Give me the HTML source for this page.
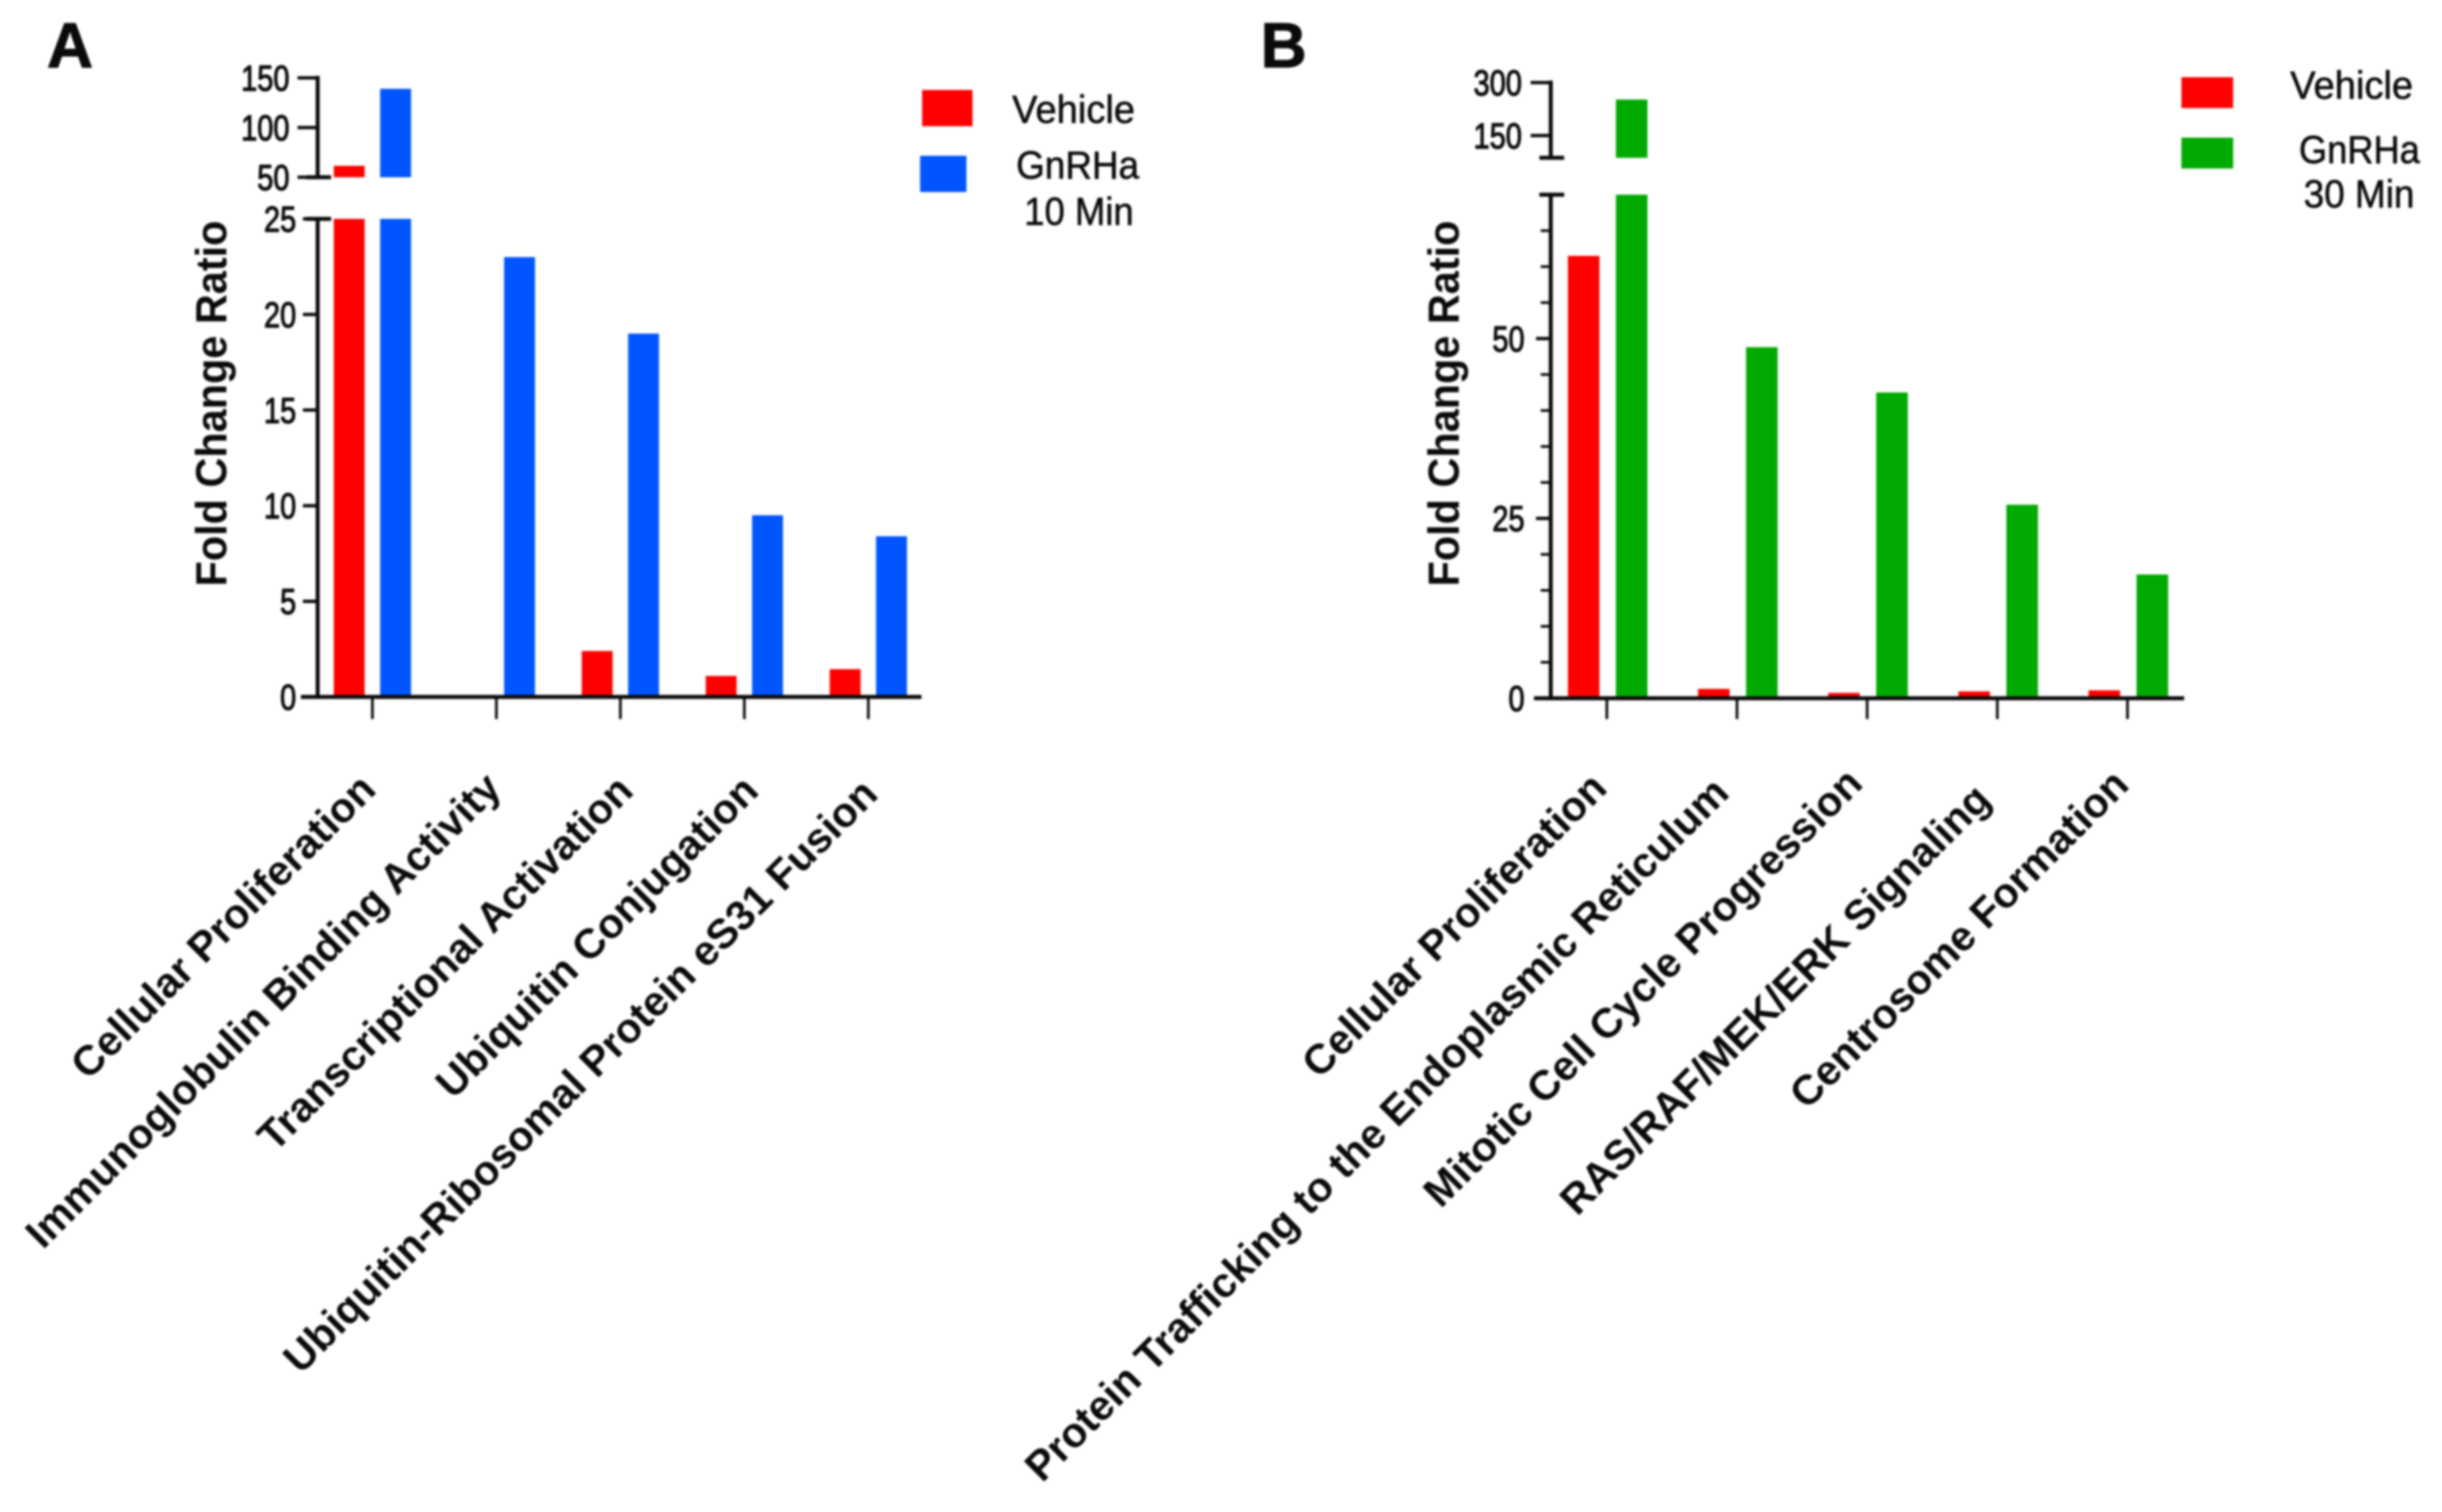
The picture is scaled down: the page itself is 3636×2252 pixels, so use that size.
<!DOCTYPE html>
<html lang="en">
<head>
<meta charset="utf-8">
<title>Fold Change Ratio panels A and B</title>
<style>
html,body{margin:0;padding:0;background:#fff;width:3636px;height:2252px;overflow:hidden}
svg{display:block;filter:blur(1.5px)}
text{font-family:"Liberation Sans",Arial,sans-serif;fill:#0a0a0a}
</style>
</head>
<body>
<svg id="figure" xmlns="http://www.w3.org/2000/svg" width="3636" height="2252" viewBox="0 0 3636 2252">
  <rect x="0" y="0" width="3636" height="2252" fill="#fff"/>
  <text x="70" y="100" font-size="95" font-weight="700" stroke="#0a0a0a" stroke-width="1.5">A</text>
  <text x="1877" y="100" font-size="95" font-weight="700" stroke="#0a0a0a" stroke-width="1.5">B</text>

  <text transform="translate(337,601) rotate(-90)" text-anchor="middle" font-size="65" font-weight="700" textLength="545" lengthAdjust="spacingAndGlyphs">Fold Change Ratio</text>
  <text transform="translate(2172,601) rotate(-90)" text-anchor="middle" font-size="65" font-weight="700" textLength="545" lengthAdjust="spacingAndGlyphs">Fold Change Ratio</text>

  <g>
    <rect x="1373" y="134" width="75" height="54" fill="#ff0000"/>
    <text x="1507" y="183" font-size="58" textLength="183" lengthAdjust="spacingAndGlyphs" stroke="#0a0a0a" stroke-width="0.8">Vehicle</text>
    <rect x="1370" y="232" width="69" height="54" fill="#0055ff"/>
    <text x="1513" y="266" font-size="58" textLength="183" lengthAdjust="spacingAndGlyphs" stroke="#0a0a0a" stroke-width="0.8">GnRHa</text>
    <text x="1525" y="335" font-size="58" textLength="163" lengthAdjust="spacingAndGlyphs" stroke="#0a0a0a" stroke-width="0.8">10 Min</text>
  </g>
  <g>
    <rect x="3248" y="115" width="77" height="46" fill="#ff0000"/>
    <text x="3410" y="147" font-size="58" textLength="183" lengthAdjust="spacingAndGlyphs" stroke="#0a0a0a" stroke-width="0.8">Vehicle</text>
    <rect x="3248" y="205" width="77" height="46" fill="#00aa00"/>
    <text x="3423" y="243" font-size="58" textLength="180" lengthAdjust="spacingAndGlyphs" stroke="#0a0a0a" stroke-width="0.8">GnRHa</text>
    <text x="3430" y="309" font-size="58" textLength="165" lengthAdjust="spacingAndGlyphs" stroke="#0a0a0a" stroke-width="0.8">30 Min</text>
  </g>
</svg>
<script>
// Panel A data
const categoriesA = ["Cellular Proliferation", "Immunoglobulin Binding Activity", "Transcriptional Activation", "Ubiquitin Conjugation", "Ubiquitin-Ribosomal Protein eS31 Fusion"];
const vehicleA = [61.5, 0.1, 2.4, 1.1, 1.45];
const gnrhaA = [139, 23, 19, 9.5, 8.4];
const lowerTicksA = [0, 5, 10, 15, 20, 25];
const upperTicksA = [50, 100, 150];
const lowerMinorA = [];

// Panel B data
const categoriesB = ["Cellular Proliferation", "Protein Trafficking to the Endoplasmic Reticulum", "Mitotic Cell Cycle Progression", "RAS/RAF/MEK/ERK Signaling", "Centrosome Formation"];
const vehicleB = [61.5, 1.3, 0.75, 0.95, 1.1];
const gnrhaB = [252, 48.8, 42.5, 26.9, 17.2];
const lowerTicksB = [0, 25, 50];
const upperTicksB = [150, 300];
const lowerMinorB = [5, 10, 15, 20, 30, 35, 40, 45, 55, 60, 65];

const svg = document.getElementById('figure');
const NS = 'http://www.w3.org/2000/svg';

function make(tag, attrs, text) {
  const el = document.createElementNS(NS, tag);
  for (const k in attrs) el.setAttribute(k, attrs[k]);
  if (text !== undefined) el.textContent = text;
  svg.appendChild(el);
  return el;
}
function linear(d0, d1, r0, r1) {
  return v => r0 + (v - d0) * (r1 - r0) / (d1 - d0);
}

function drawPanel(p) {
  const yLow = linear(p.lowMin, p.lowMax, p.lowBottom, p.lowTop);
  const yUp = linear(p.upMin, p.upMax, p.upBottom, p.upTop);
  const xTick = i => p.x0 + i * p.step;

  function bars(values, offset, color, key) {
    values.forEach((v, i) => {
      const cx = xTick(i) + offset;
      const top = yLow(Math.min(v, p.lowMax));
      const low = make('rect', {x: cx - p.barW / 2, y: top, width: p.barW, height: p.lowBottom - top, fill: color});
      
      
      if (v > p.upMin) {
        const ut = yUp(v);
        const up = make('rect', {x: cx - p.barW / 2, y: ut, width: p.barW, height: p.upBottom - ut, fill: color});
        
        
      }
    });
  }
  bars(p.vehicle, p.offV, '#ff0000', 'vehicle');
  bars(p.gnrha, p.offG, p.color, 'gnrha');

  // y axis segments
  const segL = make('line', {x1: p.axisX, x2: p.axisX, y1: p.lowTop, y2: p.lowBottom, stroke: '#0a0a0a', 'stroke-width': 6});
  
  
  const segU = make('line', {x1: p.axisX, x2: p.axisX, y1: p.upTop - 3, y2: p.upBottom, stroke: '#0a0a0a', 'stroke-width': 6});
  
  

  // break caps
  [p.lowTop, p.upBottom].forEach((cy, i) => {
    const cap = make('line', {x1: p.axisX - 17, x2: p.axisX + 20, y1: cy, y2: cy, stroke: '#0a0a0a', 'stroke-width': 6});
    
    
  });

  // baseline
  const base = make('line', {x1: p.baseL, x2: p.baseR, y1: p.lowBottom, y2: p.lowBottom, stroke: '#0a0a0a', 'stroke-width': 6});
  
  

  // y ticks and labels
  function yTicks(ticks, scale, labelX, tickLeft, seg) {
    ticks.forEach(t => {
      const y = scale(t);
      const tk = make('line', {x1: p.axisX - tickLeft, x2: p.axisX, y1: y, y2: y, stroke: '#0a0a0a', 'stroke-width': 5});
      
      
      const s = String(t);
      const lb = make('text', {x: labelX - s.length * 24, y: y + 19, 'font-size': 54, textLength: s.length * 24, lengthAdjust: 'spacingAndGlyphs', stroke: '#0a0a0a', 'stroke-width': 1.6}, s);
      
      
    });
  }
  yTicks(p.lowTicks, yLow, p.lowLabelX, 22, 'lower');
  yTicks(p.upTicks, yUp, p.upLabelX, 30, 'upper');
  p.minor.forEach(t => {
    const y = yLow(t);
    const tk = make('line', {x1: p.axisX - 15, x2: p.axisX, y1: y, y2: y, stroke: '#0a0a0a', 'stroke-width': 4});
    
    
  });

  // x ticks and rotated category labels
  p.categories.forEach((c, i) => {
    const x = xTick(i);
    const tk = make('line', {x1: x, x2: x, y1: p.lowBottom, y2: 1071, stroke: '#0a0a0a', 'stroke-width': 4});
    
    
    const lb = make('text', {'text-anchor': 'end', 'font-size': 62, 'font-weight': 700, transform: 'translate(' + (x + p.labelDx + p.nudgeX[i]) + ',' + (1177 + p.nudgeY[i]) + ') rotate(-45)'}, c);
    
    
  });
}

drawPanel({
  id: 'a', categories: categoriesA, vehicle: vehicleA, gnrha: gnrhaA, color: '#0055ff',
  lowTicks: lowerTicksA, upTicks: upperTicksA, minor: lowerMinorA,
  lowMin: 0, lowMax: 25, lowBottom: 1038, lowTop: 326,
  upMin: 50, upMax: 150, upBottom: 264, upTop: 116,
  axisX: 473, baseL: 448, baseR: 1372, x0: 554.5, step: 184.6, offV: -34.5, offG: 34.5, barW: 46,
  lowLabelX: 441, upLabelX: 431, labelDx: 10,
  nudgeX: [-2, 0, 12, 14, 7], nudgeY: [2, 0, 4, 4, 9]
});
drawPanel({
  id: 'b', categories: categoriesB, vehicle: vehicleB, gnrha: gnrhaB, color: '#00aa00',
  lowTicks: lowerTicksB, upTicks: upperTicksB, minor: lowerMinorB,
  lowMin: 0, lowMax: 70, lowBottom: 1040, lowTop: 290,
  upMin: 87, upMax: 300, upBottom: 235, upTop: 123,
  axisX: 2309, baseL: 2284, baseR: 3252, x0: 2392.5, step: 193.8, offV: -34.5, offG: 37, barW: 47,
  lowLabelX: 2270, upLabelX: 2266, labelDx: -2,
  nudgeX: [5, -7, -2, -5, 7], nudgeY: [0, 7, -7, 17, -5]
});
</script>
</body>
</html>
